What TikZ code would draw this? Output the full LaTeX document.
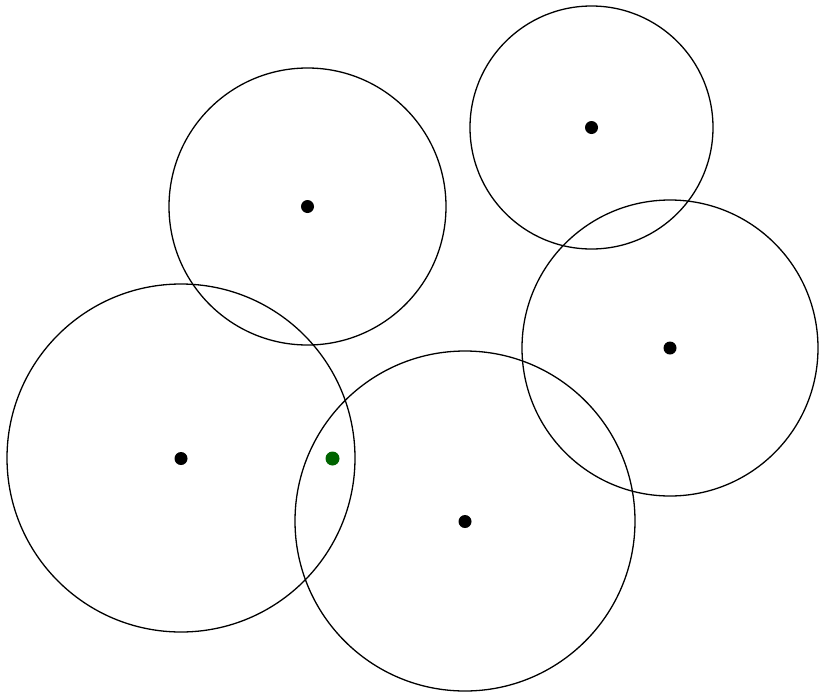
\documentclass[tikz,border=0pt]{standalone}
\definecolor{dotgreen}{RGB}{0,100,0}
\tikzset{ring/.style={draw=black,line width=1.3pt},
  centre/.style={circle,fill=black,inner sep=0pt,minimum size=13pt},
  gdot/.style={circle,fill=dotgreen,inner sep=0pt,minimum size=14pt}}
\begin{document}
\begin{tikzpicture}[x=1pt,y=-1pt]
\useasboundingbox (0,0) rectangle (820,694);
\draw[ring] (307.5,206.5) circle (138.5);
\draw[ring] (591.5,127.5) circle (121.5);
\draw[ring] (670,348) circle (148);
\draw[ring] (181,458) circle (174);
\draw[ring] (465,521) circle (170);
\node[centre] (c1) at (307.5,206.5) {};
\node[centre] (c2) at (591.5,127.5) {};
\node[centre] (c3) at (670,348) {};
\node[centre] (c4) at (181,458.5) {};
\node[centre] (c5) at (465,521.5) {};
\node[gdot] (g) at (332.5,458.5) {};
\end{tikzpicture}
\end{document}
